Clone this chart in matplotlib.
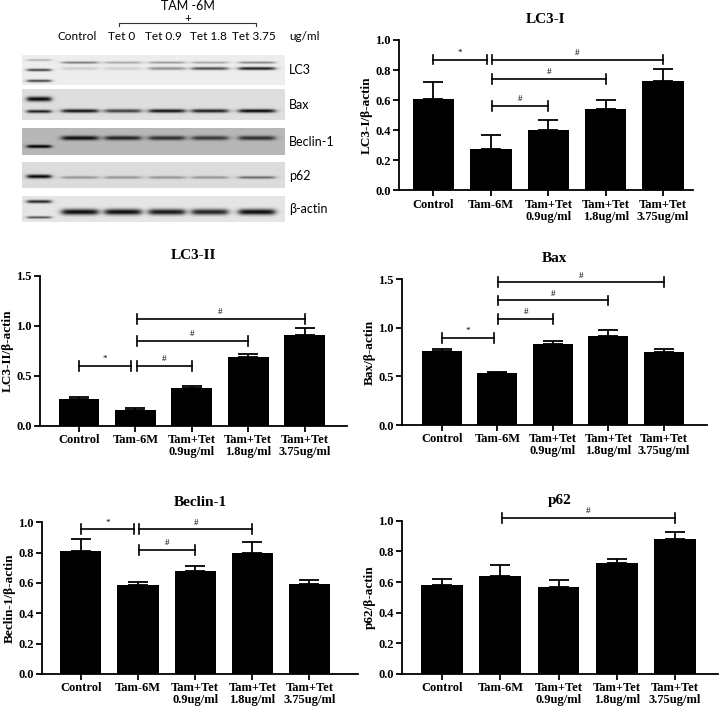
import numpy as np
import matplotlib
matplotlib.use('Agg')
import matplotlib.pyplot as plt

# ---- data ----
groups = ['Control', 'Tam-6M', 'Tam+Tet\n0.9ug/ml', 'Tam+Tet\n1.8ug/ml', 'Tam+Tet\n3.75ug/ml']

lc3i_mean = [0.61, 0.275, 0.40, 0.54, 0.73]
lc3i_err = [0.11, 0.09, 0.07, 0.06, 0.08]
lc3ii_mean = [0.263, 0.153, 0.373, 0.683, 0.91]
lc3ii_err = [0.02, 0.024, 0.027, 0.037, 0.07]
bax_mean = [0.76, 0.53, 0.829, 0.918, 0.75]
bax_err = [0.02, 0.018, 0.031, 0.062, 0.03]
beclin_mean = [0.811, 0.587, 0.677, 0.798, 0.593]
beclin_err = [0.079, 0.022, 0.033, 0.075, 0.025]
p62_mean = [0.583, 0.639, 0.565, 0.726, 0.883]
p62_err = [0.034, 0.074, 0.048, 0.024, 0.043]

# significance brackets: (from group, to group, height, mark)
lc3i_sig = [(0, 1, 0.87, '*'), (1, 4, 0.87, '#'), (1, 3, 0.74, '#'), (1, 2, 0.56, '#')]
lc3ii_sig = [(0, 1, 0.60, '*'), (1, 2, 0.60, '#'), (1, 3, 0.847, '#'), (1, 4, 1.07, '#')]
bax_sig = [(0, 1, 0.897, '*'), (1, 2, 1.089, '#'), (1, 3, 1.28, '#'), (1, 4, 1.466, '#')]
beclin_sig = [(0, 1, 0.954, '*'), (1, 3, 0.954, '#'), (1, 2, 0.818, '#')]
p62_sig = [(1, 4, 1.02, '#')]

# western blot: lane labels and band darkness per lane
blot_lanes = ['Control', 'Tet 0', 'Tet 0.9', 'Tet 1.8', 'Tet 3.75']
blot_proteins = ['LC3', 'Bax', 'Beclin-1', 'p62', 'β-actin']
lc3_upper = [0.55, 0.35, 0.4, 0.35, 0.5]
lc3_lower = [0.15, 0.15, 0.45, 0.75, 1.0]
bax_band = [0.95, 0.75, 0.95, 0.9, 1.0]
beclin_band = [0.8, 0.7, 0.65, 0.6, 0.65]
p62_band = [0.35, 0.35, 0.35, 0.35, 0.55]
actin_band = [1.0, 1.0, 0.95, 0.9, 1.0]

W, H = 720, 712
fig = plt.figure(figsize=(W / 100, H / 100), dpi=100)

serif = 'Liberation Serif'
sans = 'Lato'


def px_axes(left, top, right, bottom):
    return fig.add_axes([left / W, 1 - bottom / H, (right - left) / W, (bottom - top) / H])


# ---- blot panel ----
bax_ = px_axes(0, 0, 360, 240)
bax_.set_xlim(0, 360)
bax_.set_ylim(240, 0)
bax_.axis('off')

lane_x = [80, 123, 167, 210, 257]
label_x = [77, 122, 163, 208, 254]
ladder_x = 39
# strip: top, bottom, background, ladder bands (y, dark, sigma), sample bands (y, values, sigma)
strips = [
    (55, 85, 0.93, [(60, 0.3, 1.0), (70, 0.8, 1.3), (81, 0.8, 1.3)],
     [(62.5, lc3_upper, 1.1), (68.5, lc3_lower, 1.5)]),
    (89, 120, 0.87, [(99, 1.0, 2.4), (111.5, 0.9, 1.6)],
     [(111, bax_band, 1.8)]),
    (128, 155, 0.72, [(146.5, 0.9, 1.6)],
     [(138, beclin_band, 2.2)]),
    (162, 188, 0.86, [(176.5, 1.0, 1.9)],
     [(177.5, p62_band, 1.3)]),
    (196, 222, 0.90, [(201.5, 0.9, 1.6), (217.5, 0.7, 1.2)],
     [(212, actin_band, 3.0)]),
]
x0, x1 = 22, 285
res = 3
xs = np.linspace(x0, x1, (x1 - x0) * res)
for (top, bot, bg, ladder, bands), name in zip(strips, blot_proteins):
    ys = np.linspace(top, bot, (bot - top) * res)
    X, Y = np.meshgrid(xs, ys)
    img = np.full(X.shape, bg)
    for yc, d, s in ladder:
        prof_x = 1 / (1 + np.exp((np.abs(X - ladder_x) - 12) / 1.5))
        img -= d * 0.85 * prof_x * np.exp(-((Y - yc) / s) ** 2)
    for yc, vals, s in bands:
        for lx, d in zip(lane_x, vals):
            prof_x = 1 / (1 + np.exp((np.abs(X - lx) - 18) / 2.0))
            img -= d * 0.85 * prof_x * np.exp(-((Y - yc) / s) ** 2)
    img = np.clip(img, 0, 1)
    bax_.imshow(img, cmap='gray', vmin=0, vmax=1, extent=(x0, x1, bot, top),
                aspect='auto', interpolation='bilinear')
    bax_.text(289, (top + bot) / 2 + 0.5, name, ha='left', va='center',
              fontsize=9, family=sans)

bax_.text(188, 6, 'TAM -6M', ha='center', va='center', fontsize=9, family=sans)
bax_.text(188, 18.5, '+', ha='center', va='center', fontsize=8.5, family=sans)
bax_.plot([119, 119, 256, 256], [26, 23, 23, 26], color='#333333', lw=0.8)
for lx, lab in zip(label_x, blot_lanes):
    bax_.text(lx, 36, lab, ha='center', va='center', fontsize=8.5, family=sans)
bax_.text(304, 36, 'ug/ml', ha='center', va='center', fontsize=8.5, family=sans)
bax_.set_xlim(0, 360)
bax_.set_ylim(240, 0)


# ---- bar charts ----
def bar_panel(box, xlim, ylim, step, means, errs, sigs, title, ylabel):
    ax = px_axes(*box)
    x = np.arange(len(groups))
    ax.bar(x, means, width=0.72, color='black', zorder=2)
    ax.errorbar(x, means, yerr=[np.zeros(len(errs)), errs], fmt='none',
                ecolor='black', elinewidth=1.3, capsize=7, capthick=1.3, zorder=1)
    ax.set_xlim(*xlim)
    ax.set_ylim(0, ylim)
    ax.set_yticks(np.arange(0, ylim + 1e-9, step))
    ax.yaxis.set_major_formatter(matplotlib.ticker.FormatStrFormatter('%.1f'))
    ax.set_xticks(x)
    ax.set_xticklabels(groups, linespacing=1.0)
    for sp in ['top', 'right']:
        ax.spines[sp].set_visible(False)
    for sp in ['left', 'bottom']:
        ax.spines[sp].set_linewidth(1.3)
    ax.tick_params(direction='out', length=4, width=1.3, pad=2, labelsize=9)
    for t in ax.get_xticklabels() + ax.get_yticklabels():
        t.set_family(serif)
        t.set_fontweight('bold')
    ax.set_title(title, family=serif, fontweight='bold', fontsize=11, pad=12)
    ax.set_ylabel(ylabel, family=serif, fontweight='bold', fontsize=9.5, labelpad=2)
    dh = ylim * 0.033
    for i, j, yb, mark in sigs:
        a = i + (0.02 if i == 1 else 0.0)
        b = j - (0.07 if j == 1 else 0.0)
        ax.plot([a, b], [yb, yb], color='black', lw=1.2, clip_on=False)
        ax.plot([a, a], [yb - dh, yb + dh], color='black', lw=1.2, clip_on=False)
        ax.plot([b, b], [yb - dh, yb + dh], color='black', lw=1.2, clip_on=False)
        ax.annotate(mark, ((a + b) / 2, yb), xytext=(0, 2), textcoords='offset points',
                    ha='center', va='bottom', fontsize=6.5, family=serif,
                    annotation_clip=False)
    return ax


bar_panel((399, 40, 693, 190.3), (-0.6, 4.52), 1.0, 0.2, lc3i_mean, lc3i_err,
          lc3i_sig, 'LC3-I', 'LC3-I/β-actin')
bar_panel((40, 275.7, 347, 425.7), (-0.69, 4.75), 1.5, 0.5, lc3ii_mean, lc3ii_err,
          lc3ii_sig, 'LC3-II', 'LC3-II/β-actin')
bar_panel((402, 279, 707, 425), (-0.72, 4.78), 1.5, 0.5, bax_mean, bax_err,
          bax_sig, 'Bax', 'Bax/β-actin')
bar_panel((42, 522.3, 358, 674), (-0.68, 4.85), 1.0, 0.2, beclin_mean, beclin_err,
          beclin_sig, 'Beclin-1', 'Beclin-1/β-actin')
bar_panel((402, 520.7, 718, 674), (-0.69, 4.74), 1.0, 0.2, p62_mean, p62_err,
          p62_sig, 'p62', 'p62/β-actin')

fig.savefig('out.png', dpi=100)
